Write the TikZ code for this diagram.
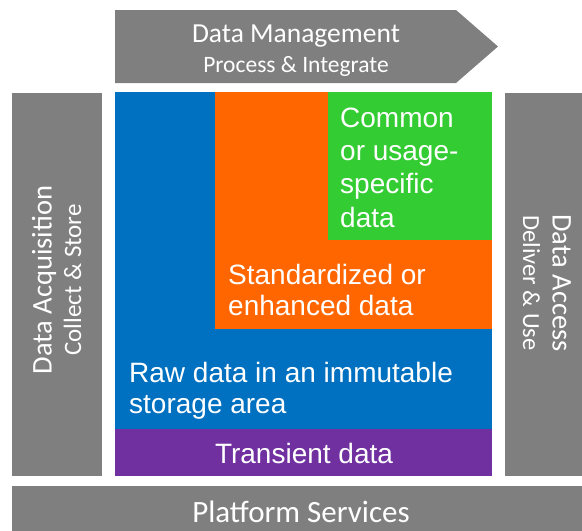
\documentclass[tikz,border=0pt]{standalone}
\usepackage{fontspec}
\setmainfont{Liberation Sans}
\newfontfamily\calibri{Carlito}
\usetikzlibrary{positioning}

\definecolor{rawblue}{HTML}{0070C0}
\definecolor{stdorange}{HTML}{FF6600}
\definecolor{usegreen}{HTML}{33CC33}
\definecolor{transpurple}{HTML}{7030A0}
\definecolor{svcgray}{HTML}{7F7F7F}

\begin{document}
\begin{tikzpicture}[
    x=1pt, y=-1pt,
    zone/.style={
      rectangle, inner sep=0pt, anchor=north west, draw=none
    },
    svc/.style={
      zone, fill=svcgray
    },
    ztxt/.style={
      inner sep=0pt, text=white, align=left, anchor=base west,
      font=\fontsize{28}{31}\selectfont
    },
    stxt/.style={
      inner sep=0pt, text=white, align=center,
      font=\calibri\fontsize{24}{29.5}\selectfont
    },
  ]
  \useasboundingbox (0,0) rectangle (582,531);

  % Data zones
  \node[zone, fill=rawblue, minimum width=377pt, minimum height=337pt]     (raw)    at (115,92)  {};
  \node[zone, fill=stdorange, minimum width=277pt, minimum height=237pt]   (std)    at (215,92)  {};
  \node[zone, fill=usegreen, minimum width=164pt, minimum height=148pt]    (common) at (328,92)  {};
  \node[zone, fill=transpurple, minimum width=377pt, minimum height=47pt]  (trans)  at (115,429) {};

  % base west sits on the last line
  \node[ztxt, font=\fontsize{28}{33.3}\selectfont] (commontxt) at (340,227) {Common\\or usage-\\specific\\data};
  \node[ztxt] (stdtxt) at (228,315) {Standardized or\\enhanced data};
  \node[ztxt] (rawtxt) at (129,413) {Raw data in an immutable\\storage area};
  \node[ztxt, anchor=base, align=center] (transtxt) at (304,463) {Transient data};

  % Services round the zones
  \fill[svcgray] (115,10) -- (456,10) -- (498,46.5) -- (456,83) -- (115,83) -- cycle;
  \node[svc, minimum width=90pt, minimum height=383pt]  (acq)      at (12,93)  {};
  \node[svc, minimum width=77pt, minimum height=383pt]  (access)   at (505,93) {};
  \node[svc, minimum width=570pt, minimum height=45pt]  (platform) at (12,486) {};

  \node[stxt, anchor=base] (mgmttxt) at (296,72)
    {{\fontsize{27.5}{29.5}\selectfont Data Management}\\{\fontsize{23.5}{29.5}\selectfont Process \& Integrate}};
  \node[stxt, rotate=90, anchor=base] (acqtxt) at (81,280)
    {{\fontsize{28.5}{29.5}\selectfont Data Acquisition}\\{\fontsize{25}{29.5}\selectfont Collect \& Store}};
  \node[stxt, rotate=-90, anchor=base] (accesstxt) at (523,283)
    {{\fontsize{28.5}{29.5}\selectfont Data Access}\\{\fontsize{24.5}{29.5}\selectfont Deliver \& Use}};
  \node[stxt, anchor=base, font=\calibri\fontsize{31}{33}\selectfont] (platformtxt) at (301,522) {Platform Services};

\end{tikzpicture}
\end{document}
